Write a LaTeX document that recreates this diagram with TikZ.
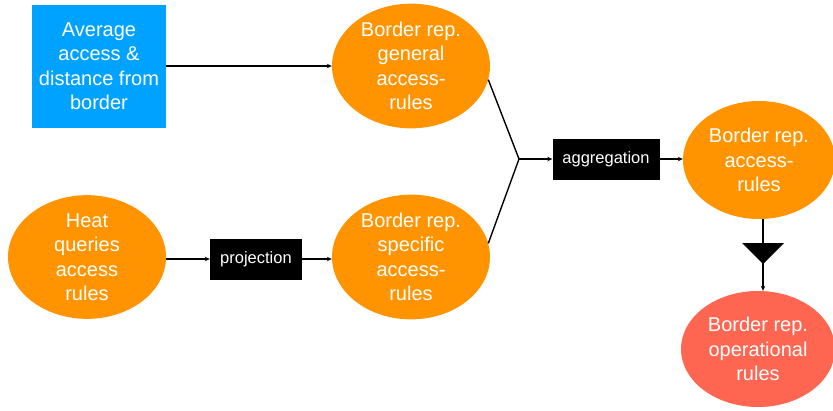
\documentclass[tikz,border=0pt]{standalone}
\usepackage{fontspec}
\setmainfont{Liberation Sans}
\definecolor{ruleorange}{RGB}{255, 148, 0}
\definecolor{sourceblue}{RGB}{0, 162, 255}
\definecolor{opred}{RGB}{255, 102, 82}
\usetikzlibrary{shapes, arrows.meta, positioning, calc}

\begin{document}
\begin{tikzpicture}[x=1pt, y=-1pt,
    rule/.style={ellipse, fill=ruleorange, text=white, align=center, inner sep=0pt,
      minimum width=158pt, minimum height=122pt, font=\fontsize{20}{24.5}\selectfont},
    source/.style={rectangle, fill=sourceblue, text=white, align=center, inner sep=0pt,
      minimum width=134pt, minimum height=123pt, font=\fontsize{20}{24.5}\selectfont},
    op/.style={rectangle, fill=black, text=white, inner sep=0pt,
      minimum height=41pt, font=\fontsize{16.5}{19}\selectfont},
    flow/.style={-{Stealth[length=5pt, width=4.5pt]}, line width=1.4pt}]
  \useasboundingbox (0,0) rectangle (833,410);

  % inputs
  \node[source] (avg) at (99,66) {Average\\access \&\\distance from\\border};
  \node[rule] (heat) at (87,257) {Heat\\queries\\access\\rules};

  % border rules
  \node[rule] (general) at (411,66) {Border rep.\\general\\access-\\rules};
  \node[op, minimum width=92pt] (proj) at (256,259) {projection};
  \node[rule] (specific) at (411,257) {Border rep.\\specific\\access-\\rules};

  \coordinate (join) at (519,159);
  \node[op, minimum width=107pt] (agg) at (606,159) {aggregation};
  \node[rule, minimum width=152pt, minimum height=118pt] (access) at (759,160) {Border rep.\\access-\\rules};
  \node[rule, fill=opred, minimum width=154pt, minimum height=116pt] (oprules) at (758,349) {Border rep.\\operational\\rules};

  \draw[flow] (avg.east) -- (general.west);
  \draw[flow] (heat.east |- proj.west) -- (proj.west);
  \draw[flow] (proj.east) -- (specific.west |- proj.east);
  \draw[line width=1.4pt] (general.-10) -- (join) -- (specific.10);
  \draw[flow] (join) -- (agg.west);
  \draw[flow] (agg.east) -- (access.west |- agg.east);
  \draw[flow] (access.south -| 763,0) -- (oprules.north -| 763,0);

  % gate
  \coordinate (gate) at (763,243);
  \fill (gate) ++(-21,0) -- ++(42,0) -- ++(-21,21) -- cycle;
\end{tikzpicture}
\end{document}
